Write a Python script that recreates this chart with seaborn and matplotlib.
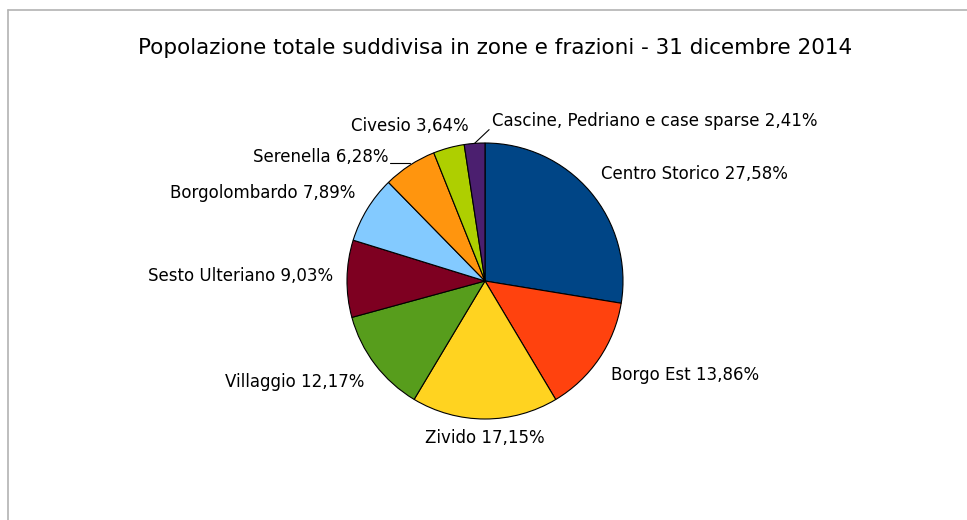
import numpy as np
import matplotlib
matplotlib.use("Agg")
import matplotlib.pyplot as plt
from matplotlib.lines import Line2D
import seaborn as sns

zone = ["Centro Storico", "Borgo Est", "Zivido", "Villaggio", "Sesto Ulteriano",
        "Borgolombardo", "Serenella", "Civesio", "Cascine, Pedriano e case sparse"]
percentuali = [27.58, 13.86, 17.15, 12.17, 9.03, 7.89, 6.28, 3.64, 2.41]
colori = ["#004586", "#ff420e", "#ffd320", "#579d1c", "#7e0021",
          "#83caff", "#ff950e", "#aecf00", "#4b1f6f"]
titolo = "Popolazione totale suddivisa in zone e frazioni - 31 dicembre 2014"

sns.set_theme(style="white")
plt.rcParams['font.family'] = ['DejaVu Sans']

fig = plt.figure(figsize=(9.67, 5.2), dpi=100)
R = 138  # raggio della torta in px
ax = fig.add_axes([(485 - 200) / 967, (239 - 200) / 520, 400 / 967, 400 / 520])

wedges, _ = ax.pie(percentuali, colors=sns.color_palette(colori), startangle=90,
                   counterclock=False,
                   wedgeprops=dict(edgecolor="black", linewidth=0.8))
lim = 200 / R
ax.set_xlim(-lim, lim)
ax.set_ylim(-lim, lim)
ax.set_aspect("equal")
ax.axis("off")

# aggiustamenti etichette: (dx, dy, ha, linea di richiamo)
tweaks = {
    "Zivido": (0.0, 0.03, "center", False),
    "Sesto Ulteriano": (0.0, 0.015, "right", False),
    "Serenella": (-0.096, -0.087, "right", True),
    "Civesio": (0.17, 0.0, "right", False),
    "Cascine, Pedriano e case sparse": (0.133, 0.0, "left", True),
}

for w, nome, p in zip(wedges, zone, percentuali):
    ang = np.deg2rad((w.theta1 + w.theta2) / 2)
    c, s = np.cos(ang), np.sin(ang)
    r = 1.1
    ha = "left" if c > 0.1 else ("right" if c < -0.1 else "center")
    va = "bottom" if s > 0.3 else ("top" if s < -0.3 else "center")
    dx = dy = 0.0
    linea = False
    if nome in tweaks:
        dx, dy, ha, linea = tweaks[nome]
    tx, ty = r * c + dx, r * s + dy
    testo = f"{nome} {p:.2f}%".replace(".", ",")
    ax.text(tx, ty, testo, ha=ha, va=va, fontsize=12, color="black",
            clip_on=False)
    if linea:
        if ha == "right":
            ax.plot([c, tx + 0.01], [s + 0.02, s + 0.02], color="black", lw=0.8,
                    clip_on=False)
        else:
            ax.plot([c, tx - 0.02], [s, ty], color="black", lw=0.8,
                    clip_on=False)

fig.text(495 / 967, 1 - 48 / 520, titolo, ha="center", va="center",
         fontsize=15.5, color="black")

# bordo del grafico (sopra e a sinistra)
fig.add_artist(Line2D([8 / 967, 1], [1 - 10 / 520] * 2, color="#b3b3b3", lw=1.2))
fig.add_artist(Line2D([8 / 967] * 2, [0, 1 - 10 / 520], color="#b3b3b3", lw=1.2))

fig.savefig("out.png", dpi=100, facecolor="white")
